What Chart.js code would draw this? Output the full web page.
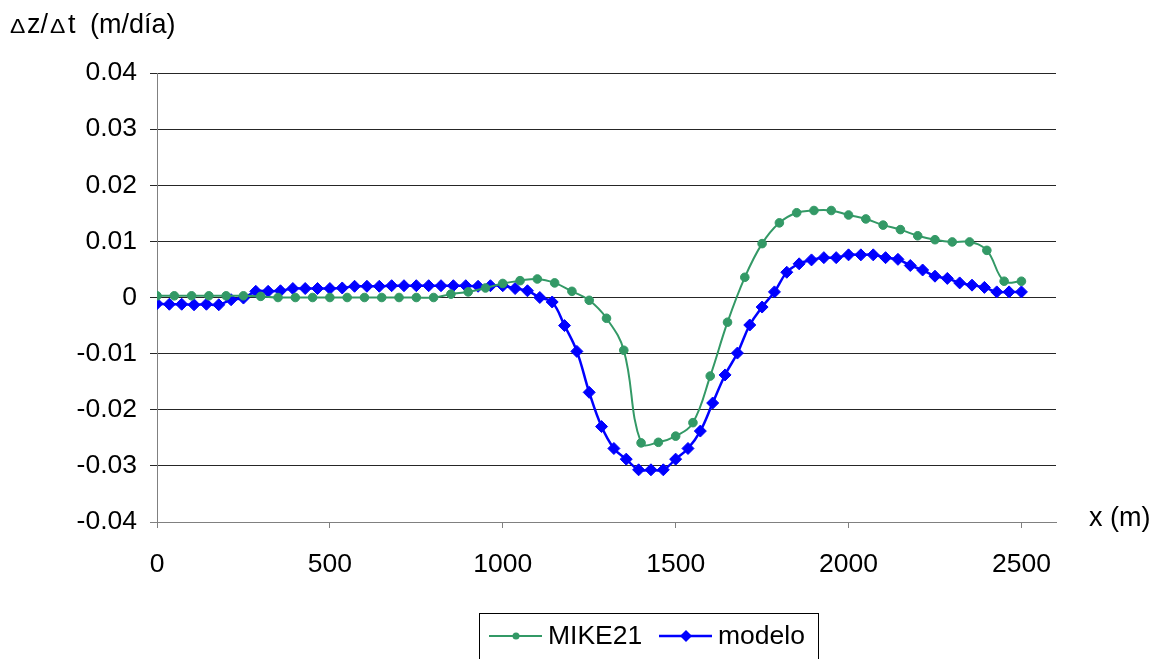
<!DOCTYPE html>
<html lang="es">
<head>
<meta charset="utf-8">
<title>Δz/Δt - MIKE21 vs modelo</title>
<script src="https://cdn.jsdelivr.net/npm/chart.js"></script>
<style>
    html, body { margin: 0; padding: 0; background: #fff; }
    #grafico { display: block; }
</style>
</head>
<body>
<canvas id="grafico" width="1166" height="659"></canvas>
<script>
// --- DATOS ---
const xMike = [0, 50, 100, 150, 200, 250, 300, 350, 400, 450, 500, 550, 600, 650, 700, 750, 800,
    850, 900, 950, 1000, 1050, 1100, 1150, 1200, 1250, 1300, 1350, 1400, 1450, 1500, 1550, 1600,
    1650, 1700, 1750, 1800, 1850, 1900, 1950, 2000, 2050, 2100, 2150, 2200, 2250, 2300, 2350,
    2400, 2450, 2500];

const valoresMike = [0.0003, 0.0003, 0.0003, 0.0003, 0.0003, 0.0003,
    0.0002, 0, 0, 0, 0,
    0, 0, 0, 0, 0, 0,
    0.0006,
    0.0010, 0.0017, 0.0025, 0.0030, 0.0033, 0.0026, 0.0011, -0.0005, -0.0037, -0.0094,
    -0.0259, -0.0258, -0.0247, -0.0223, -0.0140, -0.0044, 0.0036, 0.0096, 0.0133, 0.0151,
    0.0155, 0.0155, 0.0147, 0.0140, 0.0129, 0.0121, 0.0110, 0.0103, 0.0099, 0.0099,
    0.0084, 0.0029, 0.0029];

const xModelo = [0, 35.7, 71.4, 107.1, 142.9, 178.6, 214.3, 250, 285.7, 321.4, 357.1, 392.9,
    428.6, 464.3, 500, 535.7, 571.4, 607.1, 642.9, 678.6, 714.3, 750, 785.7, 821.4, 857.1,
    892.9, 928.6, 964.3, 1000, 1035.7, 1071.4, 1107.1, 1142.9, 1178.6, 1214.3, 1250, 1285.7,
    1321.4, 1357.1, 1392.9, 1428.6, 1464.3, 1500, 1535.7, 1571.4, 1607.1, 1642.9, 1678.6,
    1714.3, 1750, 1785.7, 1821.4, 1857.1, 1892.9, 1928.6, 1964.3, 2000, 2035.7, 2071.4,
    2107.1, 2142.9, 2178.6, 2214.3, 2250, 2285.7, 2321.4, 2357.1, 2392.9, 2428.6, 2464.3, 2500];

const valoresModelo = [-0.0011, -0.0012, -0.0012, -0.0013, -0.0012, -0.0013,
    -0.0004, -0.0001, 0.0011, 0.0011, 0.0012,
    0.0016, 0.0016, 0.0016, 0.0016, 0.0017,
    0.0020, 0.0020, 0.0020, 0.0021, 0.0021, 0.0021, 0.0021, 0.0021, 0.0021, 0.0021,
    0.0020, 0.0021, 0.0021, 0.0016, 0.0012,
    0.0000, -0.0008, -0.0050, -0.0096, -0.0169,
    -0.0230, -0.0269, -0.0288, -0.0307, -0.0307,
    -0.0307, -0.0288, -0.0269, -0.0238, -0.0188,
    -0.0138, -0.0099, -0.0049, -0.0017, 0.0010,
    0.0045, 0.0060, 0.0067, 0.0071, 0.0071,
    0.0076, 0.0076, 0.0076, 0.0071, 0.0068,
    0.0057, 0.0049, 0.0038, 0.0034, 0.0026,
    0.0022, 0.0018, 0.0010, 0.0010, 0.0010];

const xTicks = [0, 500, 1000, 1500, 2000, 2500];
const yTicks = [-0.04, -0.03, -0.02, -0.01, 0, 0.01, 0.02, 0.03, 0.04];
const yEtiquetas = ['-0.04', '-0.03', '-0.02', '-0.01', '0', '0.01', '0.02', '0.03', '0.04'];
const nombresSeries = ['MIKE21', 'modelo'];

// --- ESTILO ---
const FUENTE = "'Liberation Sans', Arial, Helvetica, sans-serif";
const VERDE = '#339966';
const AZUL = '#0000ff';

/**
 * Dibuja titulo del eje Y, etiqueta "x (m)" y la leyenda con recuadro
 */
const textosExtra = {
    id: 'textosExtra',
    afterDraw(chart) {
        const ctx = chart.ctx;
        const area = chart.chartArea;
        ctx.save();
        ctx.fillStyle = '#000';
        ctx.textBaseline = 'alphabetic';

        // titulo: Δz/Δt (m/día), con la delta mas pequeña (como en Symbol)
        const base = 33;
        const trozos = [['Δ', 20, 10], ['z/', 27, 27], ['Δ', 20, 50], ['t', 27, 68], ['(m/día)', 27, 90]];
        trozos.forEach(([txt, tam, x]) => {
            ctx.font = `${tam}px ${FUENTE}`;
            if (txt === 'Δ') {
                ctx.save();
                ctx.translate(x, base);
                ctx.scale(1.15, 1);
                ctx.fillText(txt, 0, 0);
                ctx.restore();
            } else {
                ctx.fillText(txt, x, base);
            }
        });

        // etiqueta del eje X
        ctx.font = `27px ${FUENTE}`;
        ctx.fillText('x (m)', area.right + 33, area.bottom + 4);

        // leyenda
        ctx.strokeStyle = '#000';
        ctx.lineWidth = 1;
        ctx.strokeRect(479.5, 613.5, 339, 60);
        ctx.textBaseline = 'middle';
        ctx.font = `26.5px ${FUENTE}`;
        const yl = 636;

        ctx.strokeStyle = VERDE;
        ctx.lineWidth = 2;
        ctx.beginPath(); ctx.moveTo(489, yl); ctx.lineTo(542, yl); ctx.stroke();
        ctx.fillStyle = VERDE;
        ctx.beginPath(); ctx.arc(516, yl, 3.5, 0, Math.PI * 2); ctx.fill();
        ctx.fillStyle = '#000';
        ctx.fillText(nombresSeries[0], 548, yl + 1);

        ctx.strokeStyle = AZUL;
        ctx.lineWidth = 2.5;
        ctx.beginPath(); ctx.moveTo(659, yl); ctx.lineTo(712, yl); ctx.stroke();
        ctx.fillStyle = AZUL;
        ctx.beginPath();
        ctx.moveTo(686, yl - 6); ctx.lineTo(692, yl); ctx.lineTo(686, yl + 6); ctx.lineTo(680, yl);
        ctx.closePath(); ctx.fill();
        ctx.fillStyle = '#000';
        ctx.fillText(nombresSeries[1], 718, yl + 1);

        ctx.restore();
    }
};

new Chart(document.getElementById('grafico'), {
    type: 'line',
    data: {
        datasets: [{
            label: nombresSeries[0],
            data: xMike.map((v, i) => ({ x: v, y: valoresMike[i] })),
            borderColor: VERDE,
            backgroundColor: VERDE,
            borderWidth: 2,
            pointStyle: 'circle',
            pointRadius: 4.3,
            pointBorderWidth: 1,
            tension: 0.4,
            fill: false
        }, {
            label: nombresSeries[1],
            data: xModelo.map((v, i) => ({ x: v, y: valoresModelo[i] })),
            borderColor: AZUL,
            backgroundColor: AZUL,
            borderWidth: 2.5,
            pointStyle: 'rectRot',
            pointRadius: 6,
            pointBorderWidth: 1,
            tension: 0.4,
            fill: false
        }]
    },
    options: {
        responsive: false,
        devicePixelRatio: 1,
        animation: false,
        layout: { padding: { top: 73, right: 110, bottom: 0, left: 0 } },
        plugins: {
            legend: { display: false },
            tooltip: { enabled: false }
        },
        scales: {
            x: {
                type: 'linear',
                min: 0,
                max: 2600,
                afterBuildTicks: s => { s.ticks = xTicks.map(v => ({ value: v })); },
                afterFit: s => { s.height = 137; },
                grid: { drawOnChartArea: false, drawTicks: true, tickLength: 6, color: '#808080' },
                border: { color: '#808080', width: 1 },
                ticks: {
                    font: { family: FUENTE, size: 26.5 },
                    color: '#000',
                    padding: 21,
                    maxRotation: 0,
                    autoSkip: false,
                    callback: v => String(v)
                }
            },
            y: {
                min: -0.04,
                max: 0.04,
                afterBuildTicks: s => { s.ticks = yTicks.map(v => ({ value: v })); },
                afterFit: s => { s.width = 157; },
                grid: {
                    color: c => (c.tick && c.tick.value === -0.04) ? '#808080' : '#262626',
                    tickLength: 7
                },
                border: { color: '#808080', width: 1 },
                ticks: {
                    font: { family: FUENTE, size: 26.5 },
                    color: '#000',
                    padding: 13,
                    callback: (v) => {
                        const i = yTicks.findIndex(t => Math.abs(t - v) < 1e-9);
                        return i >= 0 ? yEtiquetas[i] : '';
                    }
                }
            }
        }
    },
    plugins: [textosExtra]
});
</script>
</body>
</html>
